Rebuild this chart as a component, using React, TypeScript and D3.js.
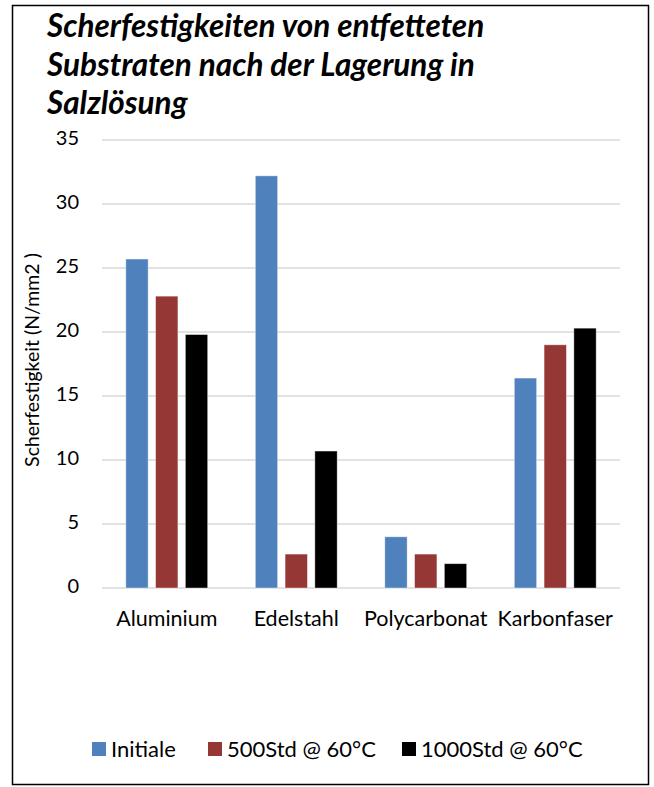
import * as d3 from "d3"

const categories = ["Aluminium", "Edelstahl", "Polycarbonat", "Karbonfaser"]
const seriesNames = ["Initiale", "500Std @ 60°C", "1000Std @ 60°C"]
const seriesColors = ["#4F81BD", "#953735", "#000000"]
const initiale = [25.7, 32.2, 4.0, 16.4]
const std500 = [22.8, 2.65, 2.65, 19.0]
const std1000 = [19.8, 10.7, 1.9, 20.3]
const yTickValues = [0, 5, 10, 15, 20, 25, 30, 35]
const titleLines = ["Scherfestigkeiten von entfetteten", "Substraten nach der Lagerung in", "Salzlösung"]

const W = 654
const H = 787
const font = "Lato, 'Open Sans', sans-serif"

export default function App() {
  const series = [initiale, std500, std1000]
  const margin = { top: 140, right: 34, bottom: 199, left: 102 }

  const xScale = d3
    .scaleBand()
    .domain(categories)
    .range([margin.left, W - margin.right])
    .paddingInner(0)
    .paddingOuter(0)

  // bars inside each category
  const inner = d3
    .scaleBand()
    .domain(seriesNames)
    .range([0, xScale.bandwidth()])
    .paddingInner(0.25)
    .paddingOuter(0.8)

  const yScale = d3
    .scaleLinear()
    .domain([0, 35])
    .range([H - margin.bottom, margin.top])

  const legendX = [92, 208, 402]

  return (
    <svg width={W} height={H} style={{ position: "absolute", left: 0, top: 0, background: "#fff" }}>
      <rect x={12.5} y={5.5} width={636} height={779} fill="#fff" stroke="#000" strokeWidth={1.5} />
      {titleLines.map((t, i) => (
        <text
          key={i}
          x={47}
          y={37 + i * 38.5}
          fontFamily={font}
          fontWeight="bold"
          fontStyle="italic"
          fontSize={31.5}
          fill="#000"
        >
          {t}
        </text>
      ))}
      {yTickValues.map((d) => (
        <g key={d}>
          <line
            x1={xScale.range()[0]}
            x2={xScale.range()[1]}
            y1={yScale(d)}
            y2={yScale(d)}
            stroke="#D9D9D9"
            strokeWidth={1.5}
          />
          <text
            x={79}
            y={yScale(d)}
            textAnchor="end"
            dominantBaseline="middle"
            fontFamily={font}
            fontSize={20}
            fill="#000"
          >
            {d}
          </text>
        </g>
      ))}
      <text
        transform={`translate(34, ${yScale(17.5) - 4}) rotate(-90)`}
        textAnchor="middle"
        dominantBaseline="middle"
        fontFamily={font}
        fontSize={19.5}
        fill="#000"
      >
        Scherfestigkeit (N/mm2 )
      </text>
      {categories.map((c, ci) => (
        <g key={c}>
          {series.map((s, si) => (
            <rect
              key={si}
              x={(xScale(c) ?? 0) + (inner(seriesNames[si]) ?? 0)}
              y={yScale(s[ci])}
              width={inner.bandwidth()}
              height={yScale(0) - yScale(s[ci])}
              fill={seriesColors[si]}
              stroke="#fff"
              strokeOpacity={0.5}
              strokeWidth={0.8}
            />
          ))}
          <text
            x={(xScale(c) ?? 0) + xScale.bandwidth() / 2}
            y={626}
            textAnchor="middle"
            fontFamily={font}
            fontSize={21.5}
            fill="#000"
          >
            {c}
          </text>
        </g>
      ))}
      {seriesNames.map((n, i) => (
        <g key={n}>
          <rect x={legendX[i]} y={742} width={14} height={14} fill={seriesColors[i]} />
          <text x={legendX[i] + 19} y={756.5} fontFamily={font} fontSize={22} fill="#000">
            {n}
          </text>
        </g>
      ))}
    </svg>
  )
}
